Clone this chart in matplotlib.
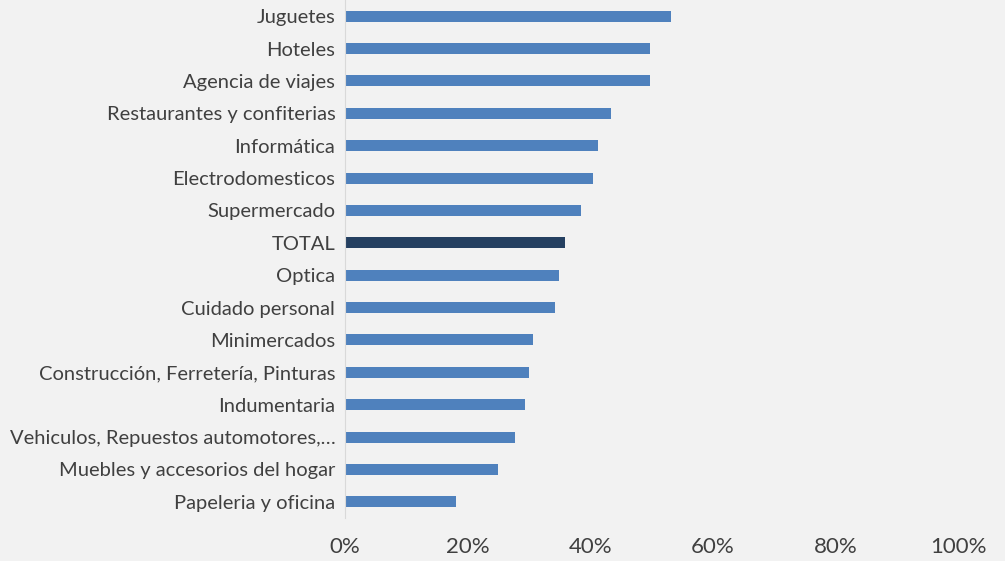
import numpy as np
import matplotlib.pyplot as plt

# categories top-to-bottom as in the chart
categories = ["Juguetes", "Hoteles", "Agencia de viajes", "Restaurantes y confiterias",
              "Informática", "Electrodomesticos", "Supermercado", "TOTAL", "Optica",
              "Cuidado personal", "Minimercados", "Construcción, Ferretería, Pinturas",
              "Indumentaria", "Vehiculos, Repuestos automotores,…",
              "Muebles y accesorios del hogar", "Papeleria y oficina"]
values = [0.532, 0.498, 0.498, 0.434, 0.413, 0.405, 0.385, 0.359, 0.349,
          0.343, 0.307, 0.300, 0.294, 0.277, 0.250, 0.181]
xticks = [0, 0.2, 0.4, 0.6, 0.8, 1.0]
xticklabels = ["0%", "20%", "40%", "60%", "80%", "100%"]

plt.rcParams['font.family'] = ['Lato', 'DejaVu Sans']
bg = '#f2f2f2'

fig = plt.figure(figsize=(10.05, 5.61), dpi=100, facecolor=bg)
ax = fig.add_axes([0.3433, 0.0767, 0.6100, 0.9233], facecolor=bg)

colors = ['#254061' if c == "TOTAL" else '#4f81bd' for c in categories]
y = np.arange(len(categories))
ax.barh(y, values, height=0.34, color=colors, edgecolor='none')
ax.set_ylim(len(categories) - 0.5, -0.5)
ax.set_xlim(0, 1)

ax.set_yticks(y)
ax.set_yticklabels(categories, fontsize=14.5, color='#404040')
ax.set_xticks(xticks)
ax.set_xticklabels(xticklabels, fontsize=16, color='#404040')
ax.tick_params(axis='y', length=0, pad=7)
ax.tick_params(axis='x', length=0, pad=14)

for s in ['top', 'right', 'bottom']:
    ax.spines[s].set_visible(False)
ax.spines['left'].set_color('#d9d9d9')

fig.savefig('out.png', dpi=100, facecolor=bg)
